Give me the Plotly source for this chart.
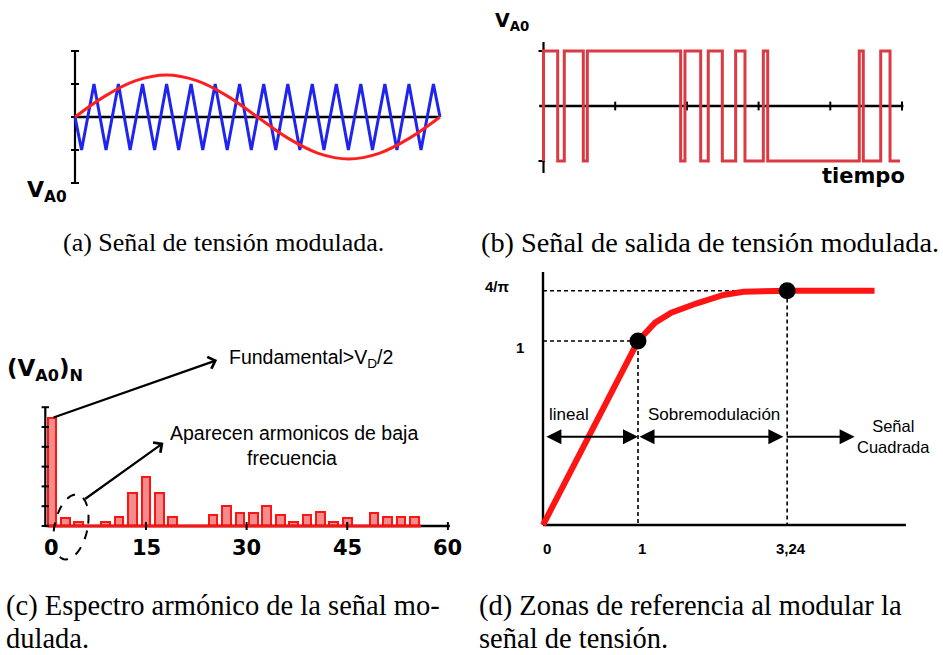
import numpy as np
import plotly.graph_objects as go

W, H = 943, 655

# ---------------- DATA ----------------
# (a) modulating sine (reference) and triangular carrier
sine_t = [0, 1/12, 2/12, 3/12, 4/12, 5/12, 6/12, 7/12, 8/12, 9/12, 10/12, 11/12, 1]
sine_v = [0, 0.64, 1.10, 1.27, 1.10, 0.64, 0, -0.64, -1.10, -1.27, -1.10, -0.64, 0]
carrier_peaks_t = [0.052, 0.119, 0.185, 0.251, 0.318, 0.384, 0.451, 0.517,
                   0.583, 0.650, 0.716, 0.783, 0.849, 0.915, 0.982]
carrier_troughs_t = [0.018, 0.085, 0.151, 0.218, 0.284, 0.350, 0.417, 0.483,
                     0.550, 0.616, 0.682, 0.749, 0.815, 0.882, 0.948]
carrier_start = (0.0, 0.0)
carrier_end = (1.0, 0.0)
a_yticks = [-2, -1, 0, 1, 2]

# (b) PWM output: switching instants (time in tick units), starts low
pwm_edges_t = [0.0, 0.198, 0.290, 0.555, 0.611, 1.913, 1.973, 2.192, 2.298,
               2.494, 2.680, 2.810, 3.066, 3.127, 4.404, 4.460, 4.703, 4.833]
pwm_end_t = 4.972
b_xticks = [1, 2, 3, 4, 5]
b_yticks = [-1, 1]

# (c) harmonic spectrum
harm_order = [1, 3, 5, 9, 11, 13, 15, 17, 19, 25, 27, 29, 31, 33, 35, 37, 39,
              41, 43, 45, 49, 51, 53, 55]
harm_amp = [5.45, 0.42, 0.18, 0.18, 0.48, 1.68, 2.45, 1.68, 0.48, 0.55, 1.02,
            0.65, 0.65, 1.02, 0.58, 0.18, 0.58, 0.70, 0.18, 0.42, 0.65, 0.45,
            0.45, 0.45]
c_xticks = [0, 15, 30, 45, 60]
c_xlabels = ["0", "15", "30", "45", "60"]
c_yticks = [0, 1, 2, 3, 4, 5, 6]

# (d) fundamental amplitude vs modulation index (schematic x positions)
d_m = [0, 1.0, 1.18, 1.35, 1.62, 1.90, 2.11, 2.32, 2.57, 3.49]
d_amp = [0, 1.0, 1.10, 1.154, 1.205, 1.25, 1.268, 1.273, 1.273, 1.273]
d_key_m = [1.0, 2.57]
d_key_amp = [1.0, 1.273]
d_xticks = [0, 1, 2.57]
d_xlabels = ["0", "1", "3,24"]
d_yticks = [1, 1.273]
d_ylabels = ["1", "4/π"]
d_zone_bounds = [0.02, 1.0, 2.53, 3.28]
d_zone_y = 0.48
d_zone_labels = ["lineal", "Sobremodulación", "Señal<br>Cuadrada"]

# ---------------- LAYOUT HELPERS ----------------
def xax(px_lo, px_hi, px0, ppu, anchor):
    return dict(domain=[px_lo / W, px_hi / W],
                range=[(px_lo - px0) / ppu, (px_hi - px0) / ppu],
                visible=False, fixedrange=True, anchor=anchor)

def yax(py_top, py_bot, py0, ppu, anchor):
    return dict(domain=[1 - py_bot / H, 1 - py_top / H],
                range=[(py0 - py_bot) / ppu, (py0 - py_top) / ppu],
                visible=False, fixedrange=True, anchor=anchor)

fig = go.Figure()
ann = []
shapes = []

def seg_trace(xs, ys, xa, ya, color="black", width=2, dash=None, shape="linear"):
    fig.add_trace(go.Scatter(x=xs, y=ys, mode="lines", xaxis=xa, yaxis=ya,
                             line=dict(color=color, width=width, dash=dash, shape=shape),
                             hoverinfo="skip", showlegend=False))

def ptext(txt, px, py, size, family, xanchor="center", yanchor="middle", align="center"):
    ann.append(dict(text=txt, x=px / W, y=1 - py / H, xref="paper", yref="paper",
                    showarrow=False, xanchor=xanchor, yanchor=yanchor, align=align,
                    font=dict(size=size, family=family, color="black")))

SANS_B = "DejaVu Sans"
ARIAL = "Liberation Sans"
SERIF = "Liberation Serif"

# ---------------- (a) ----------------
tk = 0.011
xs, ys = [], []
for v in a_yticks:
    xs += [-tk, tk, None]; ys += [v, v, None]
seg_trace(xs, ys, "x", "y", width=2)
seg_trace([0, 0], [a_yticks[0], a_yticks[-1]], "x", "y", width=2.2)
seg_trace([0, 1], [0, 0], "x", "y", width=2.6)
verts = sorted([(t, 1) for t in carrier_peaks_t] + [(t, -1) for t in carrier_troughs_t])
verts = [carrier_start] + verts + [carrier_end]
seg_trace([p[0] for p in verts], [p[1] for p in verts], "x", "y", color="#1f24ee", width=3)
seg_trace(sine_t, sine_v, "x", "y", color="#ff1f1f", width=3, shape="spline")
ptext("<b>V<sub>A0</sub></b>", 25, 192, 22, SANS_B, xanchor="left")

# ---------------- (b) ----------------
seg_trace([-0.06, 5.02], [0, 0], "x2", "y2", width=2.6)
xs, ys = [], []
for t in b_xticks:
    xs += [t, t, None]; ys += [-0.08, 0.08, None]
seg_trace(xs, ys, "x2", "y2", width=2)
seg_trace([0, 0], [1.164, -1.218], "x2", "y2", width=2.2)
xs, ys = [], []
for v in b_yticks:
    xs += [-0.07, 0.02, None]; ys += [v, v, None]
seg_trace(xs, ys, "x2", "y2", width=2)
px_, py_ = [0], [-1]
lvl = -1
for e in pwm_edges_t:
    px_ += [e, e]; py_ += [lvl, -lvl]; lvl = -lvl
px_.append(pwm_end_t); py_.append(lvl)
seg_trace(px_, py_, "x2", "y2", color="#db3a42", width=3)
ptext("<b>V<sub>A0</sub></b>", 493, 22, 19, SANS_B, xanchor="left")
ptext("<b>tiempo</b>", 907, 176, 21, SANS_B, xanchor="right")

# ---------------- (c) ----------------
fig.add_trace(go.Bar(x=harm_order, y=harm_amp, width=1.3, xaxis="x3", yaxis="y3",
                     marker=dict(color="#f58c8c", line=dict(color="#ff1414", width=2)),
                     hoverinfo="skip", showlegend=False))
seg_trace([0, 60.3], [0, 0], "x3", "y3", width=2.6)
seg_trace([0.4, 56], [0, 0], "x3", "y3", color="#ff1414", width=3)
seg_trace([0, 0], [0, 6], "x3", "y3", width=2.2)
xs, ys = [], []
for v in c_yticks:
    xs += [-0.55, 0.55, None]; ys += [v, v, None]
seg_trace(xs, ys, "x3", "y3", width=2)
xs, ys = [], []
for t in c_xticks[1:]:
    xs += [t, t, None]; ys += [-0.2, 0.2, None]
seg_trace(xs, ys, "x3", "y3", width=2)
for t, lab, sh in zip(c_xticks, c_xlabels, [6, 1, 0, 0, 0]):
    ann.append(dict(text="<b>%s</b>" % lab, x=t, y=0, xref="x3", yref="y3",
                    showarrow=False, yshift=-22, xshift=sh, xanchor="center", yanchor="middle",
                    font=dict(size=21, family=SANS_B, color="black")))
# arrows
ann.append(dict(text="", x=25.6, y=8.38, ax=harm_order[0], ay=harm_amp[0],
                xref="x3", yref="y3", axref="x3", ayref="y3", showarrow=True,
                arrowhead=4, arrowsize=1.1, arrowwidth=2.2, arrowcolor="black"))
ann.append(dict(text="", x=17.6, y=4.2, ax=5.7, ay=1.31,
                xref="x3", yref="y3", axref="x3", ayref="y3", showarrow=True,
                arrowhead=4, arrowsize=1.1, arrowwidth=2.2, arrowcolor="black"))
ptext("<b>(V<sub>A0</sub>)<sub>N</sub></b>", 5, 370, 23, SANS_B, xanchor="left")
ptext("Fundamental>V<sub>D</sub>/2", 227, 358, 19.5, ARIAL, xanchor="left")
ptext("Aparecen armonicos de baja", 294, 433, 19.5, ARIAL)
ptext("frecuencia", 292, 458, 19.5, ARIAL)
# dashed ellipse around the low-order harmonics
cx, cy, ea, eb, phi = 71, 527, 16.5, 33, np.deg2rad(12)
th = np.linspace(0, 2 * np.pi, 60)
ex = cx + ea * np.cos(th) * np.cos(phi) - eb * np.sin(th) * np.sin(phi)
ey = cy + ea * np.cos(th) * np.sin(phi) + eb * np.sin(th) * np.cos(phi)
path = "M " + " L ".join("%.5f,%.5f" % (x / W, 1 - y / H) for x, y in zip(ex, ey)) + " Z"
shapes.append(dict(type="path", path=path, xref="paper", yref="paper",
                   line=dict(color="black", width=2, dash="dash")))

# ---------------- (d) ----------------
seg_trace([0, 0], [0, 1.375], "x4", "y4", width=2.4)
seg_trace([0, 3.82], [0, 0], "x4", "y4", width=2.4)
for m, a in zip(d_key_m, d_key_amp):
    seg_trace([0, m, m], [a, a, 0], "x4", "y4", width=1.6, dash="4px,3px")
seg_trace(d_m, d_amp, "x4", "y4", color="#ff1414", width=6)
fig.add_trace(go.Scatter(x=d_key_m, y=d_key_amp, mode="markers", xaxis="x4", yaxis="y4",
                         marker=dict(color="black", size=17), hoverinfo="skip",
                         showlegend=False))
for t, lab in zip(d_xticks, d_xlabels):
    ann.append(dict(text="<b>%s</b>" % lab, x=t, y=0, xref="x4", yref="y4",
                    showarrow=False, yshift=-23, xshift=4, xanchor="center", yanchor="middle",
                    font=dict(size=15, family=ARIAL, color="black")))
for v, lab, xs_, ys_ in zip(d_yticks, d_ylabels, [-23, -46], [-6, 4]):
    ann.append(dict(text="<b>%s</b>" % lab, x=0, y=v, xref="x4", yref="y4",
                    showarrow=False, xshift=xs_, yshift=ys_, xanchor="center", yanchor="middle",
                    font=dict(size=15, family=ARIAL, color="black")))
# zone arrows
for i in range(3):
    ann.append(dict(text="", x=d_zone_bounds[i + 1], y=d_zone_y, ax=d_zone_bounds[i] + (0.02 if i == 2 else 0),
                    ay=d_zone_y, xref="x4", yref="y4", axref="x4", ayref="y4",
                    showarrow=True, arrowhead=2, arrowsize=1.5, arrowwidth=2,
                    arrowside="end" if i == 2 else "end+start", arrowcolor="black"))
ann.append(dict(text=d_zone_labels[0], x=0.27, y=0.598, xref="x4", yref="y4", showarrow=False,
                font=dict(size=17, family=ARIAL, color="black")))
ann.append(dict(text=d_zone_labels[1], x=1.8, y=0.598, xref="x4", yref="y4", showarrow=False,
                font=dict(size=17, family=ARIAL, color="black")))
ann.append(dict(text=d_zone_labels[2], x=3.69, y=0.48, xref="x4", yref="y4", showarrow=False,
                font=dict(size=16.5, family=ARIAL, color="black")))

# ---------------- captions ----------------
ptext("(a) Señal de tensión modulada.", 223.5, 243, 26, SERIF)
ptext("(b) Señal de salida de tensión modulada.", 709.5, 243, 28.3, SERIF)
ptext("(c) Espectro armónico de la señal mo-", 4, 606, 28.5, SERIF, xanchor="left")
ptext("dulada.", 4, 638, 28.5, SERIF, xanchor="left")
ptext("(d) Zonas de referencia al modular la", 477, 606, 28.5, SERIF, xanchor="left")
ptext("señal de tensión.", 477, 638, 28.5, SERIF, xanchor="left")

fig.update_layout(
    width=W, height=H, margin=dict(l=0, r=0, t=0, b=0),
    paper_bgcolor="white", plot_bgcolor="rgba(0,0,0,0)", showlegend=False,
    xaxis=xax(55, 460, 75, 365, "y"),
    yaxis=yax(40, 200, 117, 33, "x"),
    xaxis2=xax(525, 915, 543.5, 71.7, "y2"),
    yaxis2=yax(30, 185, 106, 55, "x2"),
    xaxis3=xax(30, 460, 45.3, 6.71, "y3"),
    yaxis3=yax(340, 570, 526, 19.8, "x3"),
    xaxis4=xax(530, 932, 543, 95, "y4"),
    yaxis4=yax(265, 535, 525, 184, "x4"),
    annotations=ann, shapes=shapes, bargap=0,
)
fig.write_html("out.html")
